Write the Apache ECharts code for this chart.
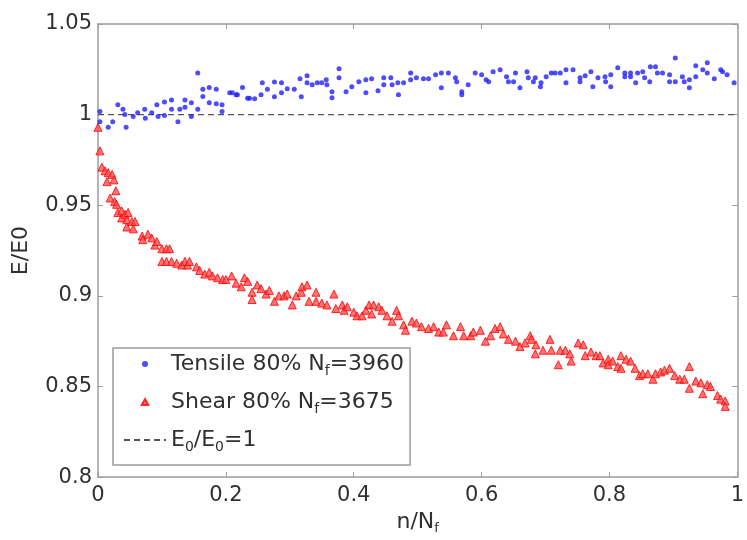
<!DOCTYPE html>
<html>
<head>
<meta charset="utf-8">
<script src="https://cdn.jsdelivr.net/npm/echarts@6/dist/echarts.min.js"></script>
<style>html,body{margin:0;padding:0;background:#fff}#c{width:747px;height:540px}</style>
</head>
<body>
<div id="c"></div>
<script>
// Tick labels
const xTicks = ['0', '0.2', '0.4', '0.6', '0.8', '1'];
const yTicks = ['0.8', '0.85', '0.9', '0.95', '1', '1.05'];

// Tensile 80% Nf=3960
const tensileX = [0.003,0.003,0.016,0.023,0.031,0.039,0.042,0.044,0.055,0.062,0.073,0.074,0.084,0.092,0.094,0.104,0.104,0.115,0.115,0.125,0.128,0.136,0.136,0.146,0.146,0.156,0.156,0.164,0.164,0.174,0.174,0.185,0.185,0.194,0.194,0.206,0.210,0.216,0.218,0.226,0.234,0.237,0.245,0.255,0.257,0.265,0.276,0.276,0.287,0.287,0.296,0.307,0.316,0.318,0.327,0.327,0.335,0.343,0.350,0.357,0.358,0.366,0.366,0.377,0.377,0.388,0.397,0.408,0.419,0.419,0.428,0.438,0.447,0.447,0.458,0.460,0.469,0.470,0.478,0.489,0.489,0.498,0.509,0.517,0.528,0.537,0.537,0.548,0.559,0.561,0.569,0.569,0.579,0.590,0.600,0.607,0.611,0.618,0.629,0.639,0.642,0.650,0.653,0.660,0.671,0.673,0.681,0.684,0.692,0.693,0.701,0.709,0.715,0.723,0.732,0.732,0.743,0.754,0.754,0.762,0.771,0.774,0.782,0.793,0.794,0.802,0.802,0.813,0.824,0.824,0.833,0.833,0.841,0.844,0.852,0.855,0.863,0.864,0.872,0.875,0.883,0.894,0.894,0.903,0.903,0.914,0.917,0.925,0.925,0.935,0.935,0.946,0.953,0.953,0.964,0.974,0.977,0.984,0.995];
const tensileY = [1.0017,0.996,0.993,0.996,1.0055,1.003,1.000,0.993,0.999,1.001,1.003,0.998,1.001,1.0055,0.999,0.9995,1.007,1.008,1.003,0.996,1.003,1.008,1.004,1.0065,0.999,1.023,1.003,1.014,1.010,1.015,1.0065,1.014,1.006,1.0055,1.0017,1.012,1.012,1.011,1.011,1.015,1.009,1.009,1.0088,1.011,1.0176,1.014,1.018,1.0099,1.0176,1.012,1.0143,1.014,1.0198,1.0099,1.0214,1.0176,1.0165,1.0176,1.0176,1.0192,1.0165,1.0126,1.0093,1.0253,1.0203,1.0126,1.0154,1.0181,1.012,1.0192,1.0198,1.0132,1.0203,1.0165,1.0203,1.0165,1.0176,1.011,1.0176,1.023,1.0192,1.0203,1.0198,1.0198,1.022,1.023,1.0148,1.023,1.0203,1.0181,1.0126,1.011,1.0165,1.023,1.022,1.0192,1.0181,1.0236,1.0247,1.0209,1.0181,1.0181,1.023,1.0148,1.0236,1.0203,1.0181,1.0203,1.0154,1.0176,1.0209,1.023,1.023,1.023,1.0247,1.0176,1.0247,1.0203,1.0181,1.0214,1.0236,1.0154,1.0203,1.0209,1.0181,1.0154,1.022,1.0258,1.023,1.0209,1.023,1.0209,1.0176,1.023,1.0236,1.0203,1.0181,1.0264,1.0264,1.023,1.023,1.0181,1.022,1.0313,1.0181,1.0209,1.0181,1.0148,1.0192,1.0209,1.0269,1.0247,1.0286,1.023,1.0198,1.0247,1.0236,1.022,1.0176];

// Shear 80% Nf=3675
const shearX = [0.000,0.003,0.006,0.011,0.014,0.016,0.019,0.022,0.025,0.026,0.028,0.029,0.031,0.037,0.037,0.042,0.045,0.045,0.047,0.053,0.055,0.058,0.069,0.070,0.078,0.084,0.089,0.092,0.100,0.100,0.107,0.107,0.112,0.115,0.123,0.131,0.136,0.140,0.143,0.154,0.159,0.167,0.174,0.179,0.187,0.195,0.200,0.209,0.216,0.224,0.229,0.234,0.241,0.241,0.249,0.255,0.263,0.268,0.276,0.283,0.291,0.296,0.304,0.310,0.318,0.319,0.327,0.330,0.341,0.341,0.350,0.358,0.369,0.372,0.382,0.385,0.390,0.400,0.405,0.413,0.419,0.424,0.428,0.431,0.439,0.444,0.452,0.460,0.467,0.470,0.478,0.481,0.491,0.498,0.506,0.517,0.525,0.533,0.540,0.545,0.556,0.567,0.572,0.583,0.587,0.598,0.606,0.614,0.621,0.629,0.634,0.642,0.653,0.660,0.668,0.676,0.678,0.684,0.685,0.696,0.707,0.709,0.720,0.723,0.731,0.738,0.740,0.751,0.759,0.762,0.771,0.779,0.785,0.790,0.798,0.798,0.805,0.813,0.818,0.818,0.826,0.833,0.840,0.847,0.852,0.860,0.868,0.872,0.880,0.886,0.894,0.902,0.910,0.917,0.925,0.925,0.935,0.943,0.946,0.953,0.958,0.969,0.974,0.981,0.981];
const shearY = [0.993,0.980,0.971,0.969,0.963,0.968,0.954,0.967,0.964,0.952,0.958,0.9505,0.946,0.947,0.943,0.945,0.942,0.938,0.946,0.941,0.937,0.941,0.933,0.931,0.934,0.932,0.928,0.930,0.926,0.919,0.926,0.919,0.926,0.919,0.918,0.917,0.919,0.917,0.919,0.916,0.914,0.912,0.913,0.911,0.910,0.909,0.909,0.911,0.907,0.905,0.910,0.908,0.902,0.898,0.906,0.904,0.901,0.903,0.897,0.900,0.900,0.901,0.895,0.900,0.902,0.905,0.906,0.897,0.902,0.897,0.896,0.895,0.901,0.893,0.895,0.892,0.894,0.891,0.889,0.889,0.892,0.895,0.890,0.895,0.894,0.892,0.889,0.886,0.892,0.889,0.884,0.881,0.886,0.885,0.883,0.882,0.883,0.880,0.880,0.884,0.878,0.883,0.878,0.878,0.880,0.881,0.875,0.878,0.882,0.883,0.879,0.876,0.875,0.872,0.874,0.878,0.876,0.868,0.873,0.870,0.876,0.870,0.862,0.870,0.870,0.868,0.864,0.874,0.873,0.867,0.869,0.867,0.867,0.863,0.865,0.862,0.864,0.861,0.860,0.867,0.865,0.864,0.860,0.856,0.857,0.857,0.854,0.857,0.858,0.859,0.860,0.856,0.854,0.854,0.861,0.849,0.853,0.852,0.846,0.851,0.850,0.845,0.843,0.842,0.839];

// Reference line E0/E0 = 1
const refX = [0, 1];
const refY = [1, 1];

function zip(a, b) { return a.map((v, i) => [v, b[i]]); }
function tickLabel(list) {
  return function (v) {
    for (const t of list) { if (Math.abs(parseFloat(t) - v) < 1e-6) return t; }
    return '';
  };
}

const FONT = 'DejaVu Sans';
const AX = '#9c9c9c';
const TXT = '#303030';

const chart = echarts.init(document.getElementById('c'));
const baseX = {
  type: 'value', min: 0, max: 1, interval: 0.2,
  axisLine: { show: true, onZero: false, lineStyle: { color: AX, width: 1.5 } },
  axisTick: { show: true, inside: true, length: 5, lineStyle: { color: AX } },
  splitLine: { show: false }
};
const baseY = {
  type: 'value', min: 0.8, max: 1.05, interval: 0.05,
  axisLine: { show: true, onZero: false, lineStyle: { color: AX, width: 1.5 } },
  axisTick: { show: true, inside: true, length: 5, lineStyle: { color: AX } },
  splitLine: { show: false }
};

chart.setOption({
  animation: false,
  backgroundColor: '#fff',
  textStyle: { fontFamily: FONT },
  grid: { left: 98, right: 7, top: 24, bottom: 61 },
  xAxis: [
    Object.assign({}, baseX, {
      position: 'bottom',
      axisLabel: { show: true, margin: 8, fontSize: 21, color: TXT, fontFamily: FONT, formatter: tickLabel(xTicks) },
      name: '{a|n/N}{s|f}',
      nameLocation: 'middle', nameGap: 28,
      nameTextStyle: {
        rich: {
          a: { fontSize: 22, color: TXT, fontFamily: FONT, lineHeight: 26 },
          s: { fontSize: 13, color: TXT, fontFamily: FONT, lineHeight: 13, verticalAlign: 'bottom' }
        }
      }
    }),
    Object.assign({}, baseX, { position: 'top', axisLabel: { show: false } })
  ],
  yAxis: [
    Object.assign({}, baseY, {
      position: 'left',
      axisLabel: { show: true, margin: 6, fontSize: 21, color: TXT, fontFamily: FONT, formatter: tickLabel(yTicks) },
      name: 'E/E0', nameLocation: 'middle', nameGap: 66, nameRotate: 90,
      nameTextStyle: { fontSize: 22, color: TXT, fontFamily: FONT }
    }),
    Object.assign({}, baseY, { position: 'right', axisLabel: { show: false } })
  ],
  legend: {
    orient: 'vertical', left: 113, top: 348,
    padding: [5, 6, 11, 10], itemGap: 13,
    itemWidth: 42, itemHeight: 6,
    symbolKeepAspect: true,
    backgroundColor: '#fff', borderColor: '#9c9c9c', borderWidth: 1.5, borderRadius: 0,
    data: [
      { name: 'tensile', icon: 'circle' },
      { name: 'shear', icon: 'path://M5,0L10,9L0,9Z' },
      { name: 'ref', itemStyle: { opacity: 0 } }
    ],
    formatter: function (name) {
      if (name === 'tensile') return '{a|Tensile 80% N}{s|f}{a|=3960}';
      if (name === 'shear') return '{a|Shear 80% N}{s|f}{a|=3675}';
      return '{a|E}{s|0}{a|/E}{s|0}{a|=1}';
    },
    textStyle: {
      rich: {
        a: { fontSize: 22, color: TXT, fontFamily: FONT, lineHeight: 28 },
        s: { fontSize: 14, color: TXT, fontFamily: FONT, lineHeight: 14, verticalAlign: 'bottom' }
      }
    }
  },
  series: [
    {
      name: 'ref', type: 'line', data: zip(refX, refY), symbol: 'none',
      lineStyle: { color: '#555', width: 1.3, type: [6, 4] }, z: 1
    },
    {
      name: 'tensile', type: 'scatter', data: zip(tensileX, tensileY),
      symbol: 'circle', symbolSize: 5,
      itemStyle: { color: '#2020ff' }, z: 3
    },
    {
      name: 'shear', type: 'scatter', data: zip(shearX, shearY),
      symbol: 'triangle', symbolSize: 8,
      itemStyle: { color: '#ff5050', borderColor: '#ff0000', borderWidth: 1 }, z: 2
    }
  ]
});
</script>
</body>
</html>
